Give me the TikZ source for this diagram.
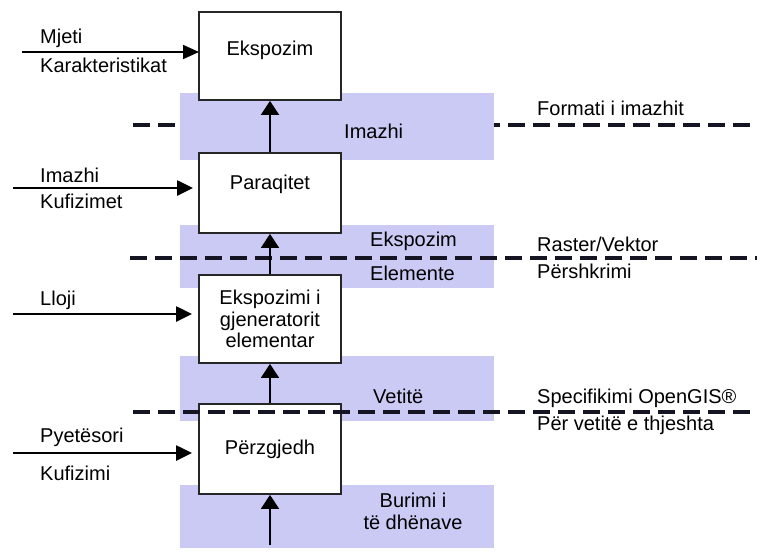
\documentclass[tikz,border=0pt]{standalone}
\usepackage{fontspec}
\setmainfont{Liberation Sans}
\usetikzlibrary{arrows.meta}
\definecolor{bandc}{RGB}{202,202,245}
\definecolor{dashc}{RGB}{20,20,35}
\begin{document}
\begin{tikzpicture}[x=1pt,y=-1pt, font=\fontsize{20}{21.5}\selectfont,
 box/.style={draw=black!85, line width=1.8pt, fill=white, minimum width=142pt, inner sep=0pt, align=center},
 bandbox/.style={fill=bandc, draw=none, minimum width=314pt, inner sep=0pt},
 sep/.style={draw=dashc, line width=3.8pt, dash pattern=on 17pt off 8pt},
 inarrow/.style={line width=2.6pt, -{Triangle[length=16pt,width=15pt]}},
 thinarrow/.style={line width=1.7pt, -{Triangle[length=16pt,width=14pt]}},
 uparrow/.style={line width=1.8pt, -{Triangle[length=14pt,width=18pt]}},
 lbl/.style={inner sep=0pt, anchor=west}]
\useasboundingbox (0,0) rectangle (760,552);
% dashed line 1 (behind band)
\coordinate (s1a) at (133,125); \coordinate (s1b) at (757,125);
\draw[sep] (s1a) -- (s1b);
% bands
\node[bandbox, minimum height=67pt] (b1) at (337,126.5) {};
\node[bandbox, minimum height=63pt] (b2) at (337,256.5) {};
\node[bandbox, minimum height=65pt] (b3) at (337,388) {};
\node[bandbox, minimum height=63pt] (b4) at (337,516.5) {};
% boxes
\node[box, minimum height=88pt] (eks) at (270,56) {};
\node[inner sep=0pt] (teks) at (270,50) {Ekspozim};
\node[box, minimum height=80pt] (par) at (270,193) {};
\node[inner sep=0pt] (tpar) at (270,184) {Paraqitet};
\node[box, minimum height=88pt] (gen) at (270,319) {Ekspozimi i\\gjeneratorit\\elementar};
\node[box, minimum height=90pt] (sel) at (270,449) {Përzgjedh};
% dashed lines 2, 3 (over bands)
\coordinate (s2a) at (130,258); \coordinate (s2b) at (757,258);
\draw[sep] (s2a) -- (s2b);
\coordinate (s3a) at (133,412); \coordinate (s3b) at (757,412);
\draw[sep] (s3a) -- (s3b);
% vertical arrows
\draw[uparrow] (par.north) -- (eks.south);
\draw[uparrow] (gen.north) -- (par.south);
\draw[uparrow] (sel.north) -- (gen.south);
\coordinate (src) at (270,545);
\draw[uparrow] (src) -- (sel.south);
% input arrows
\coordinate (i1) at (22,52); \coordinate (e1) at (199,52);
\draw[thinarrow] (i1) -- (e1);
\coordinate (i2) at (13,188); \coordinate (e2) at (193,188);
\draw[inarrow] (i2) -- (e2);
\coordinate (i3) at (13,314); \coordinate (e3) at (192,314);
\draw[inarrow] (i3) -- (e3);
\coordinate (i4) at (13,453); \coordinate (e4) at (192,453);
\draw[inarrow] (i4) -- (e4);
% left labels
\node[lbl] (l1) at (40,38) {Mjeti};
\node[lbl] (l2) at (40,65) {Karakteristikat};
\node[lbl] (l3) at (40,175) {Imazhi};
\node[lbl] (l4) at (40,201) {Kufizimet};
\node[lbl] (l5) at (40,300) {Lloji};
\node[lbl] (l6) at (40,437) {Pyetësori};
\node[lbl] (l7) at (40,473) {Kufizimi};
% band labels
\node[lbl] (m1) at (344,131) {Imazhi};
\node[lbl] (m2) at (370,241) {Ekspozim};
\node[lbl] (m3) at (370,273) {Elemente};
\node[lbl] (m4) at (373,396) {Vetitë};
\node[inner sep=0pt] (m5) at (413,500) {Burimi i};
\node[inner sep=0pt] (m6) at (413,522) {të dhënave};
% right labels
\node[lbl] (r1) at (537,108) {Formati i imazhit};
\node[lbl] (r2) at (537,244) {Raster/Vektor};
\node[lbl] (r3) at (537,271) {Përshkrimi};
\node[lbl] (r4) at (537,398) {Specifikimi OpenGIS®};
\node[lbl] (r5) at (537,425) {Për vetitë e thjeshta};
\end{tikzpicture}
\end{document}
